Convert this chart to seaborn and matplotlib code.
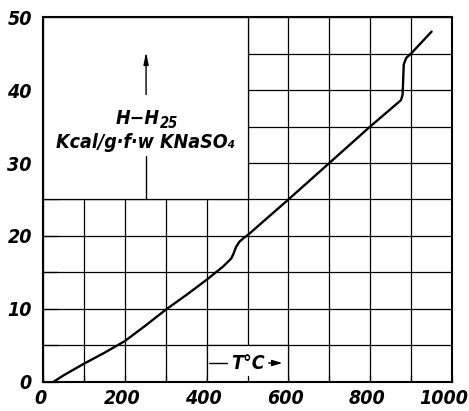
import matplotlib
matplotlib.use("Agg")
import matplotlib.pyplot as plt
import seaborn as sns
import pandas as pd
from matplotlib.patches import Rectangle
from matplotlib import font_manager as fm
from matplotlib.transforms import ScaledTranslation

# data
temp_c = [25, 50, 100, 150, 200, 250, 300, 350, 400, 440, 460, 466, 472, 480, 490, 500,
          600, 700, 800, 875, 879, 880, 882, 888, 900, 950]
enthalpy = [0, 0.9, 2.5, 4.0, 5.6, 7.7, 9.9, 11.9, 14.0, 15.8, 16.9, 17.6, 18.5, 19.2, 19.7, 20.1,
            25.0, 30.0, 35.0, 38.6, 39.3, 40.5, 43.5, 44.4, 45.0, 48.0]
x_ticks = [0, 200, 400, 600, 800, 1000]
y_ticks = [0, 10, 20, 30, 40, 50]
ylabel_main = "H\u2212H"
ylabel_sub = "25"
ylabel_units = "Kcal/g\u00b7f\u00b7w KNaSO\u2084"
xlabel_text = "T\u00b0C"

sns.set_theme(style="white")
plt.rcParams['font.family'] = ['DejaVu Sans']
plt.rcParams['text.color'] = 'black'
plt.rcParams['xtick.color'] = 'black'
plt.rcParams['ytick.color'] = 'black'


def find_font(bold, size):
    cands = []
    for f in fm.fontManager.ttflist:
        st = str(f.stretch).lower()
        if f.name in ("DejaVu Sans", "DejaVu Sans Condensed") and ("condensed" in st or "Condensed" in f.fname):
            if f.style in ("oblique", "italic"):
                w = f.weight if isinstance(f.weight, int) else (700 if "bold" in str(f.weight) else 400)
                if (w >= 600) == bold:
                    cands.append(f.fname)
    if cands:
        fp = fm.FontProperties(fname=cands[0])
    else:
        fp = fm.FontProperties(family="DejaVu Sans", style="italic", weight="bold" if bold else "normal")
    fp.set_size(size)
    return fp


tick_fp = find_font(True, 14)
lab_fp = find_font(True, 14)
sub_fp = find_font(True, 10.5)

df = pd.DataFrame({"T": temp_c, "H": enthalpy})

fig = plt.figure(figsize=(4.69, 4.11), dpi=100)
ax = fig.add_axes([0.0917, 0.0706, 0.8721, 0.888])

sns.lineplot(data=df, x="T", y="H", sort=False, estimator=None, color="black",
             linewidth=1.7, ax=ax, zorder=4)

ax.set_xlim(0, 1000)
ax.set_ylim(0, 50)
ax.set_xticks(x_ticks)
ax.set_yticks(y_ticks)
ax.set_xticks(range(0, 1001, 100), minor=True)
ax.set_yticks(range(0, 51, 5), minor=True)
ax.set_axisbelow(True)
ax.grid(which="both", color="black", linewidth=0.9)

ax.set_xticklabels([str(v) for v in x_ticks], fontproperties=tick_fp, color="black")
ax.set_yticklabels([str(v) for v in y_ticks], fontproperties=tick_fp, color="black")
ax.tick_params(axis="y", which="both", direction="in", length=11, width=0.9, color="black", pad=8, left=True)
ax.tick_params(axis="x", which="both", direction="in", length=5, width=0.9, color="black", pad=5, bottom=True)
xlabs = ax.get_xticklabels()
for i, lab in enumerate(xlabs):
    dx = -3 if i < len(xlabs) - 1 else -8
    lab.set_transform(lab.get_transform() + ScaledTranslation(dx / 100, 0, fig.dpi_scale_trans))
ax.set_xlabel("")
ax.set_ylabel("")
for s in ax.spines.values():
    s.set_color("black")
    s.set_linewidth(1.5)

# white label boxes covering the grid
ax.add_patch(Rectangle((0, 25), 500, 25, facecolor="white", edgecolor="black", linewidth=0.9, zorder=1))
ax.add_patch(Rectangle((400, 0), 200, 5, facecolor="white", edgecolor="black", linewidth=0.9, zorder=1))

# y-axis label with arrow
ax.annotate("", xy=(252, 45.6), xytext=(252, 39.0),
            arrowprops=dict(arrowstyle="-|>,head_length=0.6,head_width=0.12", color="black", lw=1.0), zorder=3)
ax.plot([252, 252], [25, 31.0], color="black", lw=1.0, zorder=3)
ax.text(285, 35.4, ylabel_main, ha="right", va="baseline", fontproperties=lab_fp, color="black", zorder=3)
ax.annotate(ylabel_sub, xy=(287, 35.4), xytext=(0, -3), textcoords="offset points",
            ha="left", va="baseline", fontproperties=sub_fp, color="black", zorder=3)
ax.text(250, 32.8, ylabel_units, ha="center", va="center", fontproperties=lab_fp, color="black", zorder=3)

# x-axis label with arrows
ax.plot([405, 450], [2.6, 2.6], color="black", lw=1.0, zorder=3)
ax.text(500, 2.5, xlabel_text, ha="center", va="center", fontproperties=tick_fp, color="black", zorder=3)
ax.annotate("", xy=(592, 2.6), xytext=(545, 2.6),
            arrowprops=dict(arrowstyle="-|>,head_length=0.5,head_width=0.15", color="black", lw=1.0), zorder=3)
ax.plot([500, 500], [0, 0.8], color="black", lw=0.9, zorder=3)

fig.savefig("out.png", dpi=100)
